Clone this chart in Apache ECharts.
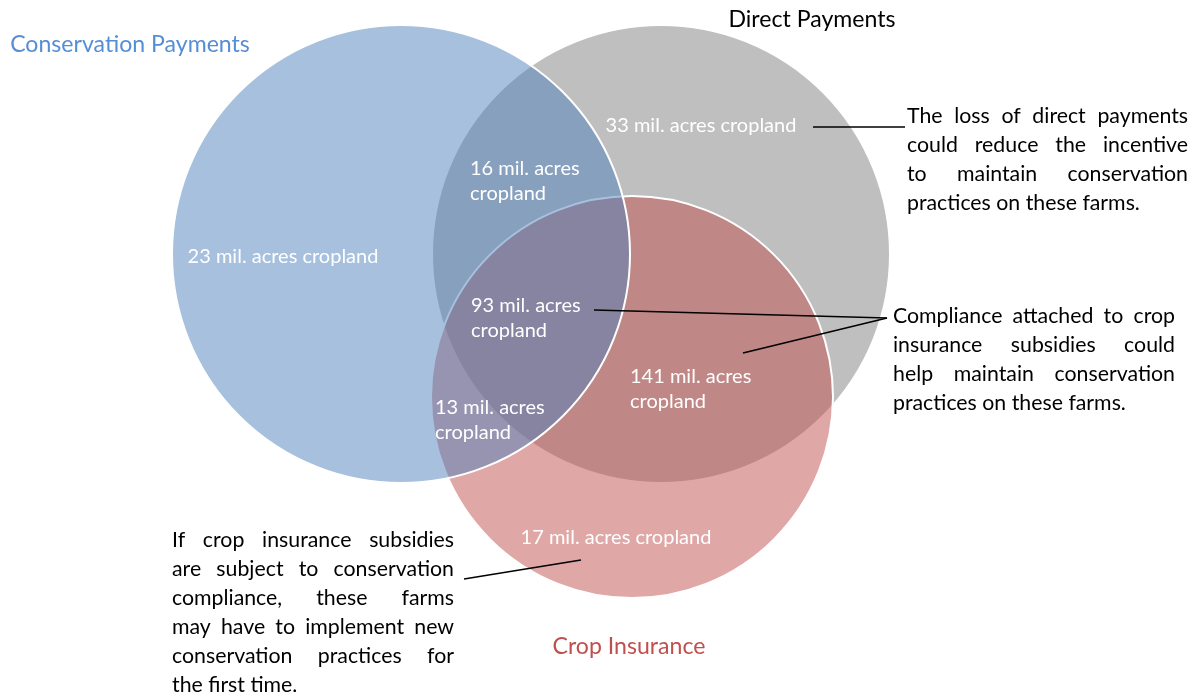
<!DOCTYPE html>
<html>
<head>
<meta charset="utf-8">
<title>Conservation compliance Venn</title>
<script src="https://cdn.jsdelivr.net/npm/echarts@6/dist/echarts.min.js"></script>
<style>
  html, body { margin: 0; padding: 0; background: #fff; }
  #chart { width: 1193px; height: 694px; }
</style>
</head>
<body>
<div id="chart"></div>
<script>
// the three programs, drawn bottom to top
var setNames = ['Direct Payments', 'Crop Insurance', 'Conservation Payments'];
var setColors = ['#7F7F7F', '#C0504D', '#4F81BD'];
var titleColors = ['#000000', '#C0504D', '#558ED5'];

// circle centre / radius in diagram units
var setCx = [661, 632, 401];
var setCy = [254, 397, 254];
var setR = [229, 201, 229];

// million acres of cropland in each region
var regionNames = ['Conservation only', 'Direct only', 'Conservation + Direct', 'All three',
    'Direct + Insurance', 'Conservation + Insurance', 'Insurance only'];
var regionValues = [23, 33, 16, 93, 141, 13, 17];

// notes
var noteLines = [
    ['The loss of direct payments', 'could reduce the incentive', 'to maintain conservation', 'practices on these farms.'],
    ['Compliance attached to crop', 'insurance subsidies could', 'help maintain conservation', 'practices on these farms.'],
    ['If crop insurance subsidies', 'are subject to conservation', 'compliance, these farms',
        'may have to implement new', 'conservation practices for', 'the first time.']
];

// layout (diagram units == px here)
var titlePos = [[812, 20], [629, 647], [130, 45]];
var regionPos = [[283, 257], [701, 126], [470, 181], [471, 318], [630, 389], [435, 420], [616, 538]];
var regionWrap = [false, false, true, true, true, true, false];
var noteBox = [[907, 1188, 116], [893, 1175, 316], [172, 454, 540]]; // left, right, first line centre
var noteLineH = 29;
var leaders = [
    [[813, 127], [905, 127]],
    [[594, 310], [887, 318]],
    [[743, 353], [887, 318]],
    [[464, 579], [581, 560]]
];

var FONT = 'Lato';
var ctx = document.createElement('canvas').getContext('2d');
function textW(str, size) {
    ctx.font = size + 'px ' + FONT;
    return ctx.measureText(str).width;
}
function fit(str, width) {
    return Math.round(100 * width / textW(str, 100) * 10) / 10;
}
var labelSize = fit('23 mil. acres cropland', 191);
var noteSize = fit('practices on these farms.', 233);
var titleSize = fit('Direct Payments', 167);

function regionText(i) {
    return regionValues[i] + ' mil. acres' + (regionWrap[i] ? '\n' : ' ') + 'cropland';
}

var chart = echarts.init(document.getElementById('chart'));

chart.setOption({
    animation: false,
    backgroundColor: '#fff',
    grid: { left: 0, right: 0, top: 0, bottom: 0 },
    xAxis: { type: 'value', min: 0, max: 1193, show: false },
    yAxis: { type: 'value', min: 0, max: 694, inverse: true, show: false },
    series: [
        {
            // circles
            type: 'custom',
            coordinateSystem: 'cartesian2d',
            clip: false,
            z: 1,
            data: setNames.map(function (n, i) { return [setCx[i], setCy[i], setR[i]]; }),
            renderItem: function (params, api) {
                var c = api.coord([api.value(0), api.value(1)]);
                var r = api.size([api.value(2), 0])[0];
                return {
                    type: 'circle',
                    shape: { cx: c[0], cy: c[1], r: r },
                    style: {
                        fill: echarts.color.modifyAlpha(setColors[params.dataIndex], 0.5),
                        stroke: '#ffffff',
                        lineWidth: 2
                    }
                };
            }
        },
        {
            // region values
            type: 'custom',
            coordinateSystem: 'cartesian2d',
            clip: false,
            z: 3,
            data: regionPos,
            renderItem: function (params, api) {
                var i = params.dataIndex;
                var p = api.coord([api.value(0), api.value(1)]);
                return {
                    type: 'text',
                    x: p[0], y: p[1],
                    style: {
                        text: regionText(i),
                        fill: '#ffffff',
                        fontFamily: FONT,
                        fontSize: labelSize,
                        lineHeight: 25,
                        align: regionWrap[i] ? 'left' : 'center',
                        verticalAlign: 'middle'
                    }
                };
            }
        },
        {
            // set titles
            type: 'custom',
            coordinateSystem: 'cartesian2d',
            clip: false,
            z: 3,
            data: titlePos,
            renderItem: function (params, api) {
                var i = params.dataIndex;
                var p = api.coord([api.value(0), api.value(1)]);
                return {
                    type: 'text',
                    x: p[0], y: p[1],
                    style: {
                        text: setNames[i],
                        fill: titleColors[i],
                        fontFamily: FONT,
                        fontSize: titleSize,
                        align: 'center',
                        verticalAlign: 'middle'
                    }
                };
            }
        },
        {
            // leader lines
            type: 'custom',
            coordinateSystem: 'cartesian2d',
            clip: false,
            z: 4,
            data: leaders.map(function (l) { return [l[0][0], l[0][1], l[1][0], l[1][1]]; }),
            renderItem: function (params, api) {
                var a = api.coord([api.value(0), api.value(1)]);
                var b = api.coord([api.value(2), api.value(3)]);
                return {
                    type: 'line',
                    shape: { x1: a[0], y1: a[1], x2: b[0], y2: b[1] },
                    style: { stroke: '#000000', lineWidth: 1.5 }
                };
            }
        },
        {
            // justified notes
            type: 'custom',
            coordinateSystem: 'cartesian2d',
            clip: false,
            z: 4,
            data: noteBox,
            renderItem: function (params, api) {
                var lines = noteLines[params.dataIndex];
                var l = api.coord([api.value(0), api.value(2)]);
                var r = api.coord([api.value(1), api.value(2)]);
                var width = r[0] - l[0];
                var kids = [];
                lines.forEach(function (line, k) {
                    var y = l[1] + k * noteLineH;
                    var base = { fill: '#000000', fontFamily: FONT, fontSize: noteSize, verticalAlign: 'middle', align: 'left' };
                    if (k === lines.length - 1) {
                        kids.push({ type: 'text', x: l[0], y: y, style: Object.assign({ text: line }, base) });
                        return;
                    }
                    var words = line.split(' ');
                    var ws = words.map(function (w) { return textW(w, noteSize); });
                    var total = ws.reduce(function (s, v) { return s + v; }, 0);
                    var gap = (width - total) / (words.length - 1);
                    var x = l[0];
                    words.forEach(function (w, j) {
                        kids.push({ type: 'text', x: x, y: y, style: Object.assign({ text: w }, base) });
                        x += ws[j] + gap;
                    });
                });
                return { type: 'group', children: kids };
            }
        }
    ]
});
</script>
</body>
</html>
